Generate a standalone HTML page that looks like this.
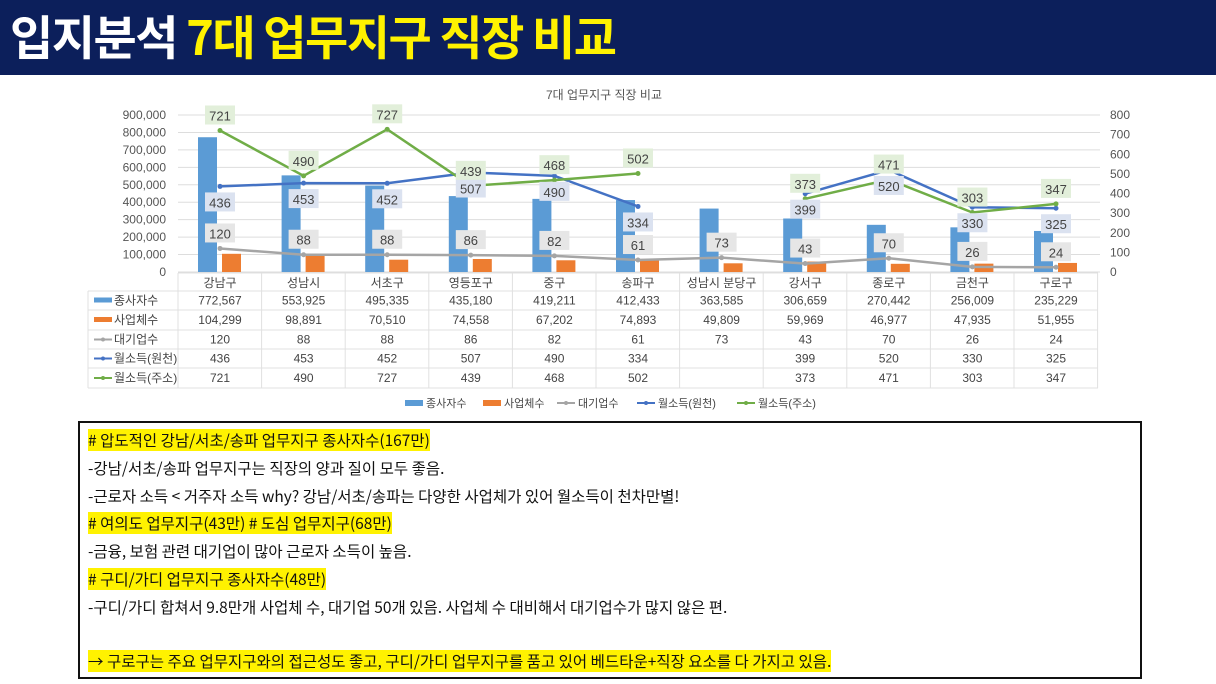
<!DOCTYPE html>
<html><head><meta charset="utf-8"><style>
body{margin:0;width:1216px;height:684px;background:#fff;overflow:hidden;font-family:"Liberation Sans","Noto Sans CJK KR",sans-serif;}
#hdr{position:absolute;left:0;top:0;width:1216px;height:75px;background:#0c1f5b;}
#hdr div{position:absolute;left:10px;top:0px;font-size:47px;font-weight:bold;color:#fff;letter-spacing:-1.5px;white-space:nowrap;font-family:"Noto Sans CJK KR",sans-serif;}
#hdr span{color:#fff200;}
#box{position:absolute;left:78px;top:421px;width:1060px;height:254px;border:2px solid #111;}
.l{position:absolute;left:8px;font-size:15.5px;color:#111;white-space:nowrap;font-family:"Noto Sans CJK KR",sans-serif;}
.hl{background:#fff200;}
</style></head><body>
<div id="hdr"><div>입지분석 <span>7대 업무지구 직장 비교</span></div></div>
<svg id="c" width="1216" height="420" style="position:absolute;left:0;top:0" font-family="Liberation Sans, Noto Sans CJK KR, sans-serif"></svg>
<div id="box">
<div class="l" style="top:6px"><span class="hl"># 압도적인 강남/서초/송파 업무지구 종사자수(167만)</span></div>
<div class="l" style="top:34px">-강남/서초/송파 업무지구는 직장의 양과 질이 모두 좋음.</div>
<div class="l" style="top:62px">-근로자 소득 &lt; 거주자 소득 why? 강남/서초/송파는 다양한 사업체가 있어 월소득이 천차만별!</div>
<div class="l" style="top:89px"><span class="hl"># 여의도 업무지구(43만) # 도심 업무지구(68만)</span></div>
<div class="l" style="top:117px">-금융, 보험 관련 대기업이 많아 근로자 소득이 높음.</div>
<div class="l" style="top:145px"><span class="hl"># 구디/가디 업무지구 종사자수(48만)</span></div>
<div class="l" style="top:173px">-구디/가디 합쳐서 9.8만개 사업체 수, 대기업 50개 있음. 사업체 수 대비해서 대기업수가 많지 않은 편.</div>
<div class="l" style="top:227px"><span class="hl">→ 구로구는 주요 업무지구와의 접근성도 좋고, 구디/가디 업무지구를 품고 있어 베드타운+직장 요소를 다 가지고 있음.</span></div>
</div>
<script>
var cats=["강남구","성남시","서초구","영등포구","중구","송파구","성남시 분당구","강서구","종로구","금천구","구로구"];
var emp=[772567,553925,495335,435180,419211,412433,363585,306659,270442,256009,235229];
var biz=[104299,98891,70510,74558,67202,74893,49809,59969,46977,47935,51955];
var big=[120,88,88,86,82,61,73,43,70,26,24];
var w1=[436,453,452,507,490,334,null,399,520,330,325];
var w2=[721,490,727,439,468,502,null,373,471,303,347];
var s="",X0=178,W=83.6,B=272,H=157;
function cx(i){return 220+W*i}
function yL(v){return B-v/900000*H}
function yR(v){return B-v/800*H}
function f(n){return n.toLocaleString("en-US")}
s+='<text x="604" y="99" font-size="12" text-anchor="middle" fill="#555">7대 업무지구 직장 비교</text>';
for(var k=0;k<=9;k++){var y=yL(k*100000);s+='<line x1="178" x2="1100" y1="'+y+'" y2="'+y+'" stroke="#ddd"/>';
s+='<text x="166" y="'+(y+4)+'" font-size="12" text-anchor="end" fill="#555">'+(k?f(k*100000):"0")+'</text>';}
for(var k=0;k<=8;k++){var y=yR(k*100);s+='<text x="1110" y="'+(y+4)+'" font-size="12" fill="#555">'+(k*100)+'</text>';}
for(var i=0;i<11;i++){var c=cx(i);
s+='<rect x="'+(c-22)+'" y="'+yL(emp[i])+'" width="19" height="'+(B-yL(emp[i]))+'" fill="#5b9bd5"/>';
s+='<rect x="'+(c+2)+'" y="'+yL(biz[i])+'" width="19" height="'+(B-yL(biz[i]))+'" fill="#ed7d31"/>';}
function line(a,col){var p="",o="";for(var i=0;i<11;i++){if(a[i]==null){if(p)o+='<polyline points="'+p+'" fill="none" stroke="'+col+'" stroke-width="2.5"/>';p="";continue;}p+=cx(i)+","+yR(a[i])+" ";o+='<circle cx="'+cx(i)+'" cy="'+yR(a[i])+'" r="2.5" fill="'+col+'"/>';}if(p)o+='<polyline points="'+p+'" fill="none" stroke="'+col+'" stroke-width="2.5"/>';return o}
s+=line(big,"#a5a5a5");s+=line(w1,"#4472c4");s+=line(w2,"#70ad47");
function lab(x,y,t,bg){return '<rect x="'+(x-15)+'" y="'+(y-10)+'" width="30" height="19" fill="'+bg+'"/><text x="'+x+'" y="'+(y+5)+'" font-size="13" text-anchor="middle" fill="#444">'+t+'</text>'}
for(var i=0;i<11;i++){var c=cx(i);
s+=lab(c,yR(big[i])-15,big[i],"#e6e6e6");
if(w1[i]!=null)s+=lab(c,yR(w1[i])+16,w1[i],"#dbe2f0");
if(w2[i]!=null)s+=lab(c,yR(w2[i])-15,w2[i],"#e2efda");}
var rows=[["종사자수",emp,"bar","#5b9bd5"],["사업체수",biz,"bar","#ed7d31"],["대기업수",big,"ln","#a5a5a5"],["월소득(원천)",w1,"ln","#4472c4"],["월소득(주소)",w2,"ln","#70ad47"]];
var ty=[273,291,310,330,349,368,388];
for(var r=0;r<ty.length;r++){s+='<line x1="'+(r<1?178:88)+'" x2="1098" y1="'+ty[r]+'" y2="'+ty[r]+'" stroke="#e0e0e0"/>';}
s+='<line x1="88" x2="88" y1="291" y2="388" stroke="#e0e0e0"/>';
for(var i=0;i<=11;i++){var x=178+W*i;s+='<line x1="'+x+'" x2="'+x+'" y1="273" y2="388" stroke="#e0e0e0"/>';}
for(var i=0;i<11;i++)s+='<text x="'+cx(i)+'" y="287" font-size="12" text-anchor="middle" fill="#444">'+cats[i]+'</text>';
for(var r=0;r<5;r++){var y=(ty[r+1]+ty[r+2])/2+4,R=rows[r];
if(R[2]=="bar")s+='<rect x="94" y="'+(y-7)+'" width="18" height="5" fill="'+R[3]+'"/>';else s+='<line x1="94" x2="112" y1="'+(y-4)+'" y2="'+(y-4)+'" stroke="'+R[3]+'" stroke-width="2"/><circle cx="103" cy="'+(y-4)+'" r="2" fill="'+R[3]+'"/>';
s+='<text x="114" y="'+y+'" font-size="12" fill="#444">'+R[0]+'</text>';
for(var i=0;i<11;i++)if(R[1][i]!=null)s+='<text x="'+cx(i)+'" y="'+y+'" font-size="12" text-anchor="middle" fill="#444">'+(R[2]=="bar"?f(R[1][i]):R[1][i])+'</text>';}
var lg=[[405,"종사자수","bar","#5b9bd5"],[483,"사업체수","bar","#ed7d31"],[557,"대기업수","ln","#a5a5a5"],[637,"월소득(원천)","ln","#4472c4"],[737,"월소득(주소)","ln","#70ad47"]];
lg.forEach(function(L){if(L[2]=="bar")s+='<rect x="'+L[0]+'" y="400" width="18" height="6" fill="'+L[3]+'"/>';else s+='<line x1="'+L[0]+'" x2="'+(L[0]+18)+'" y1="403" y2="403" stroke="'+L[3]+'" stroke-width="2"/><circle cx="'+(L[0]+9)+'" cy="403" r="2" fill="'+L[3]+'"/>';
s+='<text x="'+(L[0]+21)+'" y="407" font-size="11" fill="#444">'+L[1]+'</text>';});
document.getElementById("c").innerHTML=s;
</script>
</body></html>
